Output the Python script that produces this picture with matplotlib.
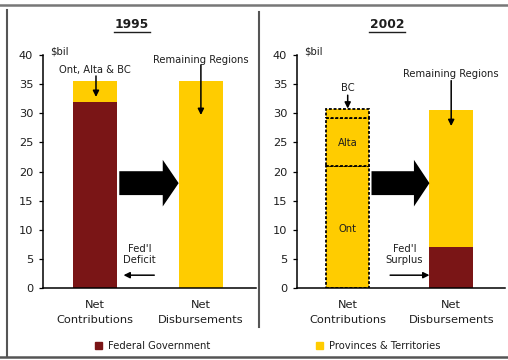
import matplotlib
matplotlib.use("Agg")
import matplotlib.pyplot as plt
from matplotlib.patches import Patch, FancyArrow
from matplotlib.lines import Line2D

# $ billions
categories = ["Net\nContributions", "Net\nDisbursements"]
yticks = [0, 5, 10, 15, 20, 25, 30, 35, 40]

# 1995: federal deficit funded by Ont, Alta & BC
fed_1995 = [32.0, 0.0]
prov_1995 = [3.5, 35.5]

# 2002: contributions split by province, federal surplus on the disbursement side
ont_2002 = 21.0
alta_2002 = 8.2
bc_2002 = 1.5
fed_2002 = 7.0
remaining_2002 = 23.6

RED = "#7a1516"
YEL = "#ffcc00"
TXT = "#1e1e1e"
FS = 7.2

plt.rcParams["font.family"] = ["DejaVu Sans"]

fig = plt.figure(figsize=(5.08, 3.60), dpi=100)
W, H = 508, 360


def px_axes(x0, x1, y0, y1):
    return fig.add_axes([x0 / W, 1 - y1 / H, (x1 - x0) / W, (y1 - y0) / H])


def style(ax):
    ax.set_ylim(0, 40)
    ax.set_xlim(-0.49, 1.52)
    ax.set_yticks(yticks)
    ax.set_xticks([0, 1])
    ax.set_xticklabels(categories, fontsize=8.2, color=TXT, linespacing=1.55)
    ax.tick_params(axis="x", length=0, pad=9)
    ax.tick_params(axis="y", length=3, width=0.9, pad=4, labelsize=8.2, labelcolor=TXT)
    for s in ["top", "right"]:
        ax.spines[s].set_visible(False)
    for s in ["left", "bottom"]:
        ax.spines[s].set_linewidth(1.1)
    ax.text(-0.42, 40.6, "$bil", fontsize=FS, color=TXT, va="center")
    # big transfer arrow between the two bars
    ax.add_patch(FancyArrow(0.23, 18.0, 0.56, 0, width=4.1, head_width=8.0,
                            head_length=0.15, length_includes_head=True,
                            color="black", lw=0))


def note_arrow(ax, start, end):
    ax.annotate("", xy=end, xytext=start,
                arrowprops=dict(arrowstyle="-|>", color="black", lw=1.1,
                                mutation_scale=9, shrinkA=0, shrinkB=0))


bw = 0.42

# ---- 1995 ----
ax1 = px_axes(43, 256, 55, 288)
ax1.bar([0, 1], fed_1995, width=bw, color=RED)
ax1.bar([0, 1], prov_1995, width=bw, bottom=fed_1995, color=YEL)
style(ax1)
ax1.text(0.0, 37.4, "Ont, Alta & BC", fontsize=FS, color=TXT, ha="center", va="center")
note_arrow(ax1, (0.01, 36.4), (0.01, 32.8))
ax1.text(1.0, 39.1, "Remaining Regions", fontsize=FS, color=TXT, ha="center", va="center")
note_arrow(ax1, (1.0, 38.3), (1.0, 29.7))
ax1.text(0.42, 5.8, "Fed'l\nDeficit", fontsize=FS, color=TXT, ha="center", va="center",
         linespacing=1.15)
note_arrow(ax1, (0.56, 2.2), (0.27, 2.2))

# ---- 2002 ----
ax2 = px_axes(297, 505, 55, 288)
dash = dict(edgecolor="black", linewidth=1.3, linestyle=(0, (1.6, 1.0)))
ax2.bar(0, ont_2002, width=bw, color=YEL, **dash)
ax2.bar(0, alta_2002, width=bw, bottom=ont_2002, color=YEL, **dash)
ax2.bar(0, bc_2002, width=bw, bottom=ont_2002 + alta_2002, color=YEL, **dash)
ax2.bar(1, fed_2002, width=bw, color=RED)
ax2.bar(1, remaining_2002, width=bw, bottom=fed_2002, color=YEL)
style(ax2)
ax2.text(0.0, 10.1, "Ont", fontsize=FS, color=TXT, ha="center", va="center")
ax2.text(0.0, 24.9, "Alta", fontsize=FS, color=TXT, ha="center", va="center")
ax2.text(0.0, 34.3, "BC", fontsize=FS, color=TXT, ha="center", va="center")
note_arrow(ax2, (0.0, 33.1), (0.0, 30.8))
ax2.text(1.0, 36.8, "Remaining Regions", fontsize=FS, color=TXT, ha="center", va="center")
note_arrow(ax2, (1.0, 35.6), (1.0, 27.8))
ax2.text(0.55, 5.8, "Fed'l\nSurplus", fontsize=FS, color=TXT, ha="center", va="center",
         linespacing=1.15)
note_arrow(ax2, (0.41, 2.2), (0.79, 2.2))

# panel titles, underlined
for xc, yr in [(132, "1995"), (387, "2002")]:
    fig.text(xc / W, 1 - 25 / H, yr, fontsize=8.8, fontweight="bold", color=TXT,
             ha="center", va="center")
    fig.add_artist(Line2D([(xc - 18) / W, (xc + 18) / W], [1 - 32 / H, 1 - 32 / H],
                          color=TXT, lw=1.0))

# frame and divider
frame = "#555555"
fig.add_artist(Line2D([0, 1], [1 - 5 / H, 1 - 5 / H], color="#777777", lw=1.8))
fig.add_artist(Line2D([0, 1], [1 - 357 / H, 1 - 357 / H], color=frame, lw=1.8))
fig.add_artist(Line2D([7 / W, 7 / W], [1 - 10 / H, 1 - 357 / H], color=frame, lw=1.5))
fig.add_artist(Line2D([259 / W, 259 / W], [1 - 12 / H, 1 - 327 / H], color=frame, lw=1.5))

# legend
fig.legend(handles=[Patch(color=RED, label="Federal Government")],
           loc="center left", bbox_to_anchor=(90 / W, 1 - 346 / H), frameon=False,
           fontsize=FS, handlelength=0.7, handleheight=0.7, handletextpad=0.6,
           borderpad=0, labelcolor=TXT)
fig.legend(handles=[Patch(color=YEL, label="Provinces & Territories")],
           loc="center left", bbox_to_anchor=(311 / W, 1 - 346 / H), frameon=False,
           fontsize=FS, handlelength=0.7, handleheight=0.7, handletextpad=0.6,
           borderpad=0, labelcolor=TXT)

fig.savefig("out.png", dpi=100)
